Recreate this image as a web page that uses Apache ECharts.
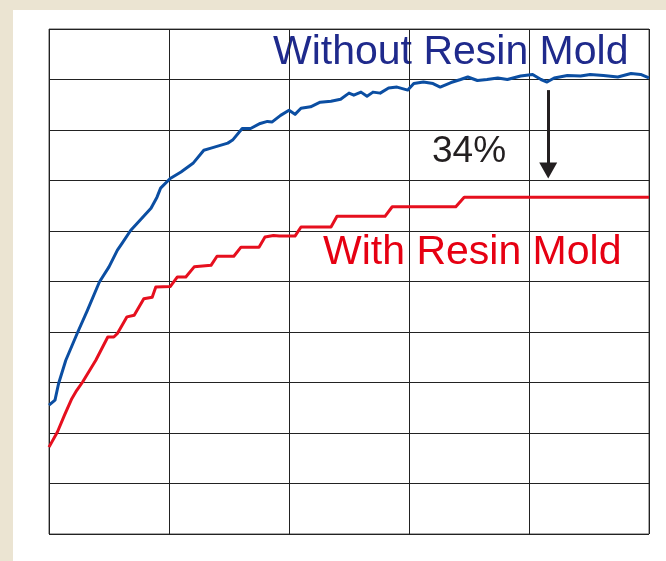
<!DOCTYPE html>
<html>
<head>
<meta charset="utf-8">
<script src="https://cdn.jsdelivr.net/npm/echarts@6/dist/echarts.min.js"></script>
<style>
  html, body { margin: 0; padding: 0; background: #ebe4d2; }
  #chart { position: absolute; left: 13px; top: 10px; width: 653px; height: 551px; background: #ffffff; }
</style>
</head>
<body>
<div id="chart"></div>
<script>
// 曲线数据（从图上读出来的）
var blueX = [0, 0.05, 0.08, 0.14, 0.24, 0.32, 0.42, 0.50, 0.57, 0.61, 0.68, 0.85, 0.90, 0.93, 1.01, 1.10, 1.20, 1.29, 1.35, 1.49, 1.53, 1.61, 1.68, 1.76, 1.82, 1.86, 1.93, 2.00, 2.05, 2.10, 2.18, 2.26, 2.35, 2.43, 2.50, 2.54, 2.60, 2.65, 2.70, 2.76, 2.83, 2.90, 2.99, 3.04, 3.12, 3.20, 3.26, 3.35, 3.43, 3.49, 3.57, 3.65, 3.74, 3.82, 3.93, 4.03, 4.10, 4.15, 4.21, 4.32, 4.43, 4.51, 4.62, 4.74, 4.85, 4.93, 5.00];
var blueY = [2.55, 2.65, 2.98, 3.44, 4.00, 4.43, 4.99, 5.29, 5.62, 5.76, 6.01, 6.45, 6.67, 6.85, 7.04, 7.17, 7.34, 7.60, 7.64, 7.74, 7.80, 8.03, 8.03, 8.13, 8.17, 8.16, 8.29, 8.39, 8.31, 8.43, 8.46, 8.55, 8.57, 8.61, 8.73, 8.69, 8.75, 8.67, 8.75, 8.73, 8.83, 8.85, 8.79, 8.92, 8.95, 8.92, 8.85, 8.94, 9.00, 9.05, 8.98, 9.00, 9.03, 9.00, 9.07, 9.10, 9.00, 8.95, 9.03, 9.08, 9.07, 9.10, 9.08, 9.05, 9.12, 9.10, 9.03];

var redX = [0, 0.07, 0.13, 0.19, 0.23, 0.28, 0.39, 0.49, 0.54, 0.57, 0.65, 0.71, 0.79, 0.86, 0.89, 1.01, 1.07, 1.14, 1.21, 1.35, 1.40, 1.54, 1.60, 1.75, 1.80, 1.87, 1.92, 2.05, 2.10, 2.35, 2.40, 2.80, 2.86, 3.39, 3.46, 5.00];
var redY = [1.72, 2.02, 2.36, 2.68, 2.84, 3.01, 3.44, 3.90, 3.90, 3.97, 4.30, 4.33, 4.66, 4.69, 4.89, 4.90, 5.09, 5.09, 5.29, 5.32, 5.50, 5.50, 5.68, 5.68, 5.88, 5.91, 5.90, 5.90, 6.08, 6.08, 6.29, 6.29, 6.48, 6.48, 6.67, 6.67];

// 箭头（34%）起点和终点
var arrowX = 4.16;
var arrowY = [8.79, 7.20];

(function() {
    var zip = function(xs, ys) {
        var out = [];
        for (var i = 0; i < xs.length; i++) out.push([xs[i], ys[i]]);
        return out;
    };
    var font = '"Liberation Sans", Arial, sans-serif';

    var myechart = echarts.init(document.getElementById('chart'));
    var option = {
        animation: false,
        grid: {
            left: 36,
            top: 19,
            right: 17,
            bottom: 27,
            show: true,
            borderColor: '#555',
            borderWidth: 1
        },
        xAxis: {
            type: 'value',
            min: 0,
            max: 5,
            interval: 1,
            axisLabel: { show: false },
            axisTick: { show: false },
            axisLine: { show: false },
            splitLine: { show: true, lineStyle: { color: '#222', width: 1 } }
        },
        yAxis: {
            type: 'value',
            min: 0,
            max: 10,
            interval: 1,
            axisLabel: { show: false },
            axisTick: { show: false },
            axisLine: { show: false },
            splitLine: { show: true, lineStyle: { color: '#222', width: 1 } }
        },
        series: [{
                name: 'Without Resin Mold',
                type: 'line',
                data: zip(blueX, blueY),
                showSymbol: false,
                lineStyle: { color: '#0b4ea2', width: 3, join: 'round' }
            },
            {
                name: 'With Resin Mold',
                type: 'line',
                data: zip(redX, redY),
                showSymbol: false,
                lineStyle: { color: '#e60f1e', width: 3, join: 'round' },
                markLine: {
                    silent: true,
                    symbol: ['none', 'triangle'],
                    symbolSize: [18, 16],
                    label: { show: false },
                    lineStyle: { color: '#231f20', width: 3, type: 'solid' },
                    data: [
                        [{ coord: [arrowX, arrowY[0]] }, { coord: [arrowX, arrowY[1]] }]
                    ]
                }
            }
        ],
        graphic: [{
                type: 'text',
                left: 260,
                top: 22,
                style: { text: 'Without Resin Mold', font: '41px ' + font, fill: '#1f2a8c' }
            },
            {
                type: 'text',
                left: 419,
                top: 123,
                style: { text: '34%', font: '37px ' + font, fill: '#231f20' }
            },
            {
                type: 'text',
                left: 310,
                top: 222,
                style: { text: 'With Resin Mold', font: '41px ' + font, fill: '#e60012' }
            }
        ]
    };
    myechart.setOption(option);
})();
</script>
</body>
</html>
